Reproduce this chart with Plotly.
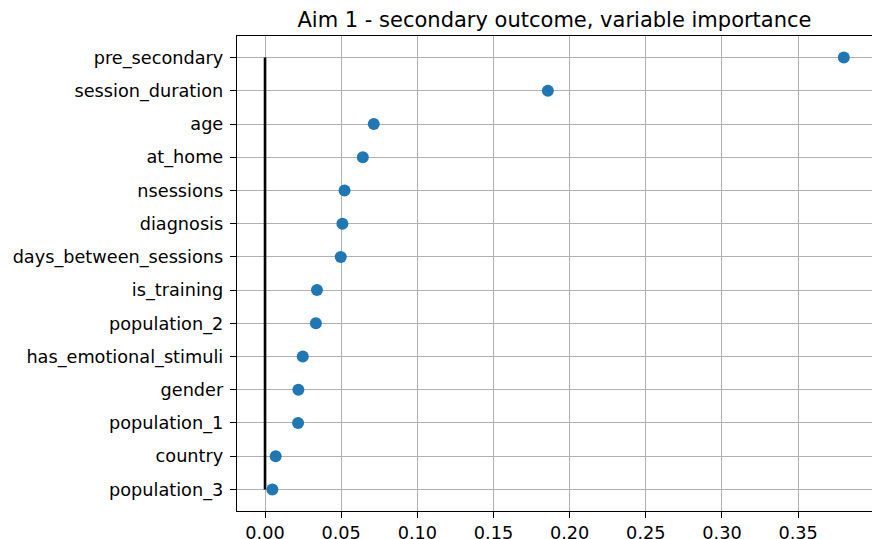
import plotly.graph_objects as go

features = ["pre_secondary", "session_duration", "age", "at_home", "nsessions",
            "diagnosis", "days_between_sessions", "is_training", "population_2",
            "has_emotional_stimuli", "gender", "population_1", "country", "population_3"]
importance = [0.380, 0.1857, 0.0714, 0.0642, 0.0522, 0.0508, 0.0497, 0.0341,
              0.0334, 0.0248, 0.0219, 0.0217, 0.0070, 0.0048]
x_ticks = [0.00, 0.05, 0.10, 0.15, 0.20, 0.25, 0.30, 0.35]
title_text = "Aim 1 - secondary outcome, variable importance"

FONT = "DejaVu Sans"

fig = go.Figure()
fig.add_trace(go.Scatter(
    x=[0, 0], y=[features[0], features[-1]], mode="lines",
    line=dict(color="black", width=2.6), hoverinfo="skip", showlegend=False))
fig.add_trace(go.Scatter(
    x=importance, y=features, mode="markers",
    marker=dict(color="#1f77b4", size=12), showlegend=False))

# the page body adds an 8px offset, so the figure is 8px smaller
fig.update_layout(
    width=872, height=531,
    margin=dict(l=229, r=8, t=28, b=28, autoexpand=False),
    paper_bgcolor="white", plot_bgcolor="white",
    font=dict(family=FONT, size=17.7, color="black"),
    title=dict(text=title_text, x=0.5, xref="paper", xanchor="center",
               y=1, yref="paper", yanchor="bottom", pad=dict(b=9),
               automargin=False,
               font=dict(family=FONT, size=21, color="black")),
)
fig.update_xaxes(
    range=[-0.0184, 0.3985], tickvals=x_ticks,
    ticktext=[f"{v:.2f}" for v in x_ticks], automargin=False,
    showgrid=True, gridcolor="#b0b0b0", gridwidth=1.4,
    zeroline=False, showline=True, linecolor="black", linewidth=1.4, mirror=True,
    ticks="outside", ticklen=6, tickwidth=1.4, tickcolor="black",
    tickfont=dict(family=FONT, size=17.7, color="black"))
fig.update_yaxes(
    type="category", categoryorder="array", categoryarray=features[::-1],
    range=[-0.65, len(features) - 1 + 0.65], automargin=False,
    ticklabelstandoff=3,
    showgrid=True, gridcolor="#b0b0b0", gridwidth=1.4,
    zeroline=False, showline=True, linecolor="black", linewidth=1.4, mirror=True,
    ticks="outside", ticklen=6, tickwidth=1.4, tickcolor="black",
    tickfont=dict(family=FONT, size=17.7, color="black"))

fig.write_html("out.html")
